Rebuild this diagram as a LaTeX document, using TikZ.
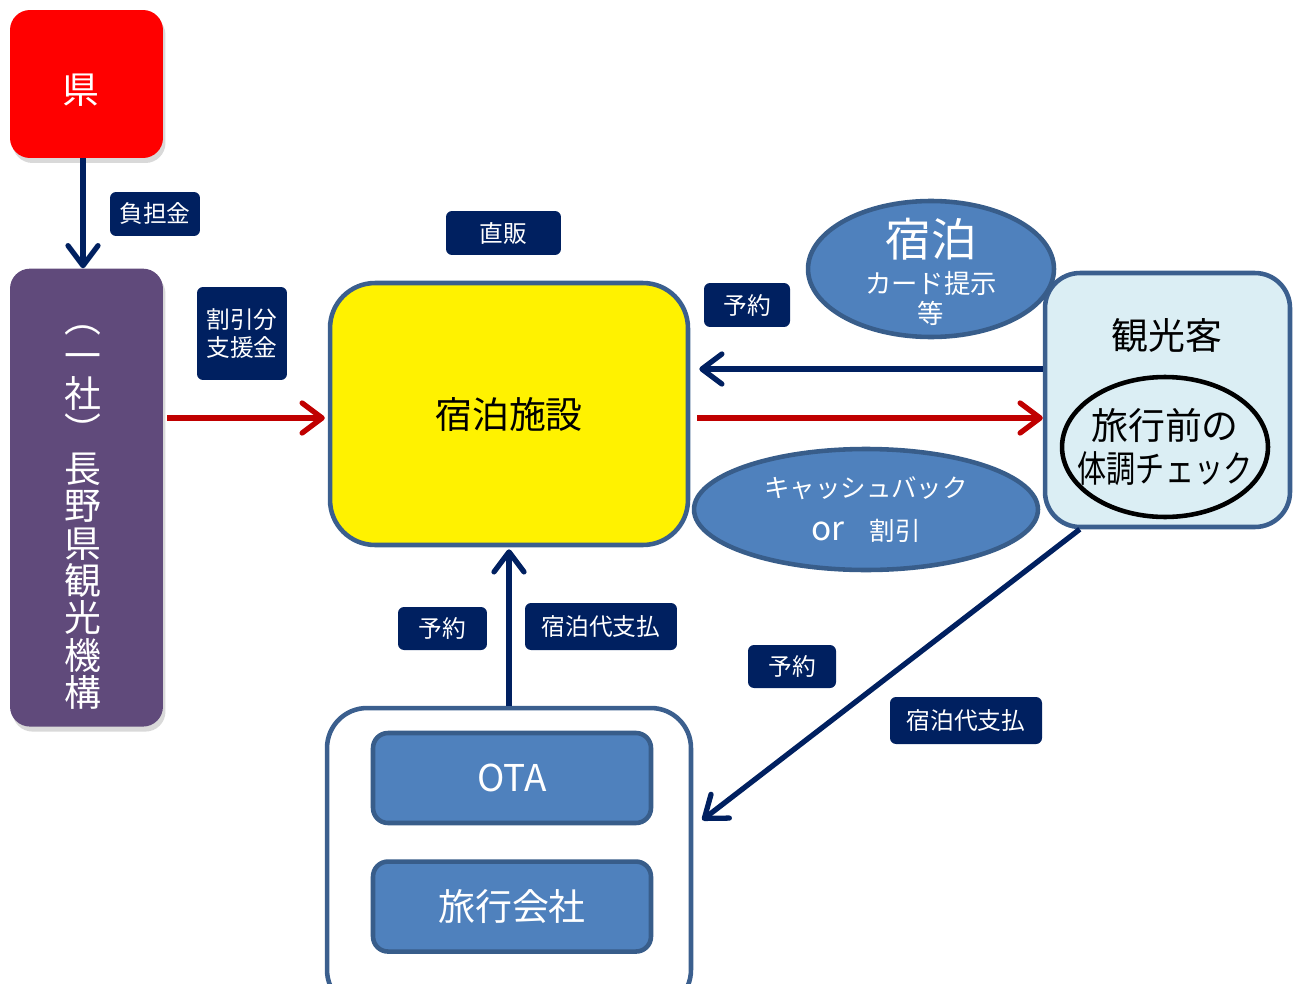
\documentclass[tikz,border=0pt]{standalone}
\usepackage{fontspec}
\usepackage{graphicx}
\setmainfont{Noto Sans CJK JP}
\usetikzlibrary{positioning,arrows.meta,shapes.geometric,shadows}
\definecolor{navy}{HTML}{002060}
\definecolor{crimson}{HTML}{C00000}
\definecolor{rim}{HTML}{3B5F8E}
\definecolor{steel}{HTML}{4F81BD}
\definecolor{steeldark}{HTML}{385D8A}
\definecolor{plum}{HTML}{604A7B}
\definecolor{ice}{HTML}{DBEEF4}
\tikzset{
  tag/.style={fill=navy, text=white, rounded corners=0.12cm, inner sep=0pt, align=center,
    font=\fontsize{13.5}{16}\selectfont},
  pill/.style={rectangle, rounded corners=0.4cm, minimum width=3.06cm, text=white,
    drop shadow={shadow xshift=0.05cm, shadow yshift=-0.1cm, opacity=0.25, fill=black!60}},
  panel/.style={rectangle, draw=rim, line width=2.6pt, rounded corners=#1, inner sep=0pt},
  bubble/.style={ellipse, draw=steeldark, fill=steel, line width=2.6pt, inner sep=0pt},
  tile/.style={panel=0.3cm, draw=steeldark, fill=steel, text=white, minimum width=5.56cm,
    minimum height=1.8cm, font=\fontsize{21}{24}\selectfont},
  flow/.style={-{Straight Barb[length=0.4cm, width=0.6cm, round]}, line width=3pt},
  big/.style={font=\fontsize{21}{24}\selectfont}
}
\begin{document}
\begin{tikzpicture}[x=0.02cm, y=-0.02cm]
        \useasboundingbox (0,0) rectangle (1297,983);
        \clip (0,0) rectangle (1297,983);

        \node [pill, fill=red, minimum height=2.96cm] (pref) at (86.5,84) {};
        \node [text=white, big] (prefname) at ([xshift=-0.12cm, yshift=-0.12cm]pref.center) {県};
        \node [pill, fill=plum, minimum height=9.16cm, below=2.2cm of pref] (org) {};
        \node [text=white, align=center, font=\fontsize{21}{21.3}\selectfont] (orgname)
          at ([xshift=-0.08cm, yshift=-0.4cm]org.center) {︵\\一\\社\\︶\\長\\野\\県\\観\\光\\機\\構};

        \node [panel=0.9cm, fill=yellow, minimum width=7.16cm, minimum height=5.24cm, big] (hotel) at (509,414) {宿泊施設};

        \node [panel=0.7cm, fill=ice, minimum width=4.9cm, minimum height=5.08cm] (guest) at (1167.5,400) {};
        \node [big] (guestname) at (1167,335) {観光客};
        \node [ellipse, draw=black, line width=2.6pt, minimum width=4.12cm, minimum height=2.8cm, inner sep=0pt] (check)
          at (1165,447) {};
        \node [align=center, big] (checktext)
          at (check.center) {旅行前の\\\resizebox{3.5cm}{\height}{体調チェック}};

        \node [bubble, minimum width=4.92cm, minimum height=2.72cm] (card) at (931,269) {};
        \node [text=white, align=center, font=\fontsize{15}{17}\selectfont] (cardtext)
          at ([yshift=-0.06cm]card.center) {{\fontsize{26}{28}\selectfont 宿泊}\\[4.2pt]カード提示\\等};
        \node [bubble, minimum width=6.88cm, minimum height=2.42cm] (cash) at (866,509.5) {};
        \node [text=white, align=center, font=\fontsize{14.5}{24}\selectfont] (cashtext)
          at (cash.center) {キャッシュバック\\{\fontsize{19}{24}\selectfont or}　割引};

        \node [panel=0.8cm, fill=white, minimum width=7.28cm, minimum height=6.04cm] (agent) at (509,859) {};
        \node [tile] (ota) at (512,778) {OTA};
        \node [tile, below=0.68cm of ota] (agency) {旅行会社};

        \node [tag, minimum width=1.8cm, minimum height=0.88cm] (burden) at (155,214) {負担金};
        \node [tag, minimum width=1.8cm, minimum height=1.86cm] (subsidy) at (242,333.5) {割引分\\支援金};
        \node [tag, minimum width=2.3cm, minimum height=0.88cm] (direct) at (503.5,233) {直販};
        \node [tag, minimum width=1.72cm, minimum height=0.88cm] (book1) at (747,305) {予約};
        \node [tag, minimum width=1.78cm, minimum height=0.86cm] (book2) at (442.5,628.5) {予約};
        \node [tag, minimum width=3.04cm, minimum height=0.94cm] (pay1) at (601,626.5) {宿泊代支払};
        \node [tag, minimum width=1.76cm, minimum height=0.86cm] (book3) at (792,666.5) {予約};
        \node [tag, minimum width=3.04cm, minimum height=0.94cm] (pay2) at (966,720.5) {宿泊代支払};

        \draw [flow, navy] ([xshift=-0.07cm]pref.south) -- ([xshift=-0.07cm]org.north);
        \draw [flow, crimson, shorten <=0.08cm, shorten >=0.06cm] ([yshift=-0.08cm]org.east |- hotel.west) -- ([yshift=-0.08cm]hotel.west);
        \draw [flow, navy, shorten >=0.18cm] ([yshift=0.62cm]guest.west) -- ([yshift=0.62cm]guest.west -| hotel.east);
        \draw [flow, crimson, shorten <=0.14cm] ([yshift=-0.08cm]hotel.east) -- ([yshift=-0.08cm]hotel.east -| guest.west);
        \draw [flow, navy, shorten >=0.04cm] (agent.north) -- (hotel.south);
        \draw [flow, navy] ([xshift=0.74cm]guest.south west) -- ([xshift=0.18cm, yshift=0.78cm]agent.east);
\end{tikzpicture}
\end{document}
